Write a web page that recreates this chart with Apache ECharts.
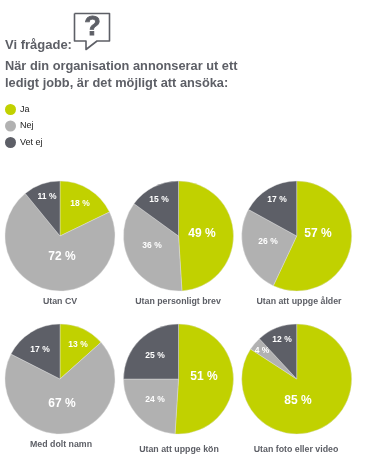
<!DOCTYPE html>
<html><head><meta charset="utf-8">
<style>html,body{margin:0;padding:0;background:#fff}#c{width:367px;height:467px}</style>
<script src="https://cdn.jsdelivr.net/npm/echarts@6/dist/echarts.min.js"></script>
</head><body><div id="c"></div>
<script>
const answers = ['Ja', 'Nej', 'Vet ej'];
const colors = ['#c1d100', '#b1b1b1', '#5d5f67'];
const pieNames = ['Utan CV', 'Utan personligt brev', 'Utan att uppge ålder', 'Med dolt namn', 'Utan att uppge kön', 'Utan foto eller video'];
const utanCV = [18, 72, 11];
const utanBrev = [49, 36, 15];
const utanAlder = [57, 26, 17];
const doltNamn = [13, 67, 17];
const utanKon = [51, 24, 25];
const utanFoto = [85, 4, 12];
const pieValues = [utanCV, utanBrev, utanAlder, doltNamn, utanKon, utanFoto];

// layout only
const centers = [[60,236],[178.5,236],[296.7,236],[60,379],[178.5,379],[296.7,379]];
const nameAnchors = [[60,302],[178,302],[299,302],[61,445],[179,450],[296,450]];
const labelAnchors = [
  [[80,204],[62,257],[47,197]],
  [[202,234],[152,246],[159,200]],
  [[318,234],[268,242],[277,200]],
  [[78,345],[62,404],[40,350]],
  [[204,377],[155,400],[155,356]],
  [[298,401],[262,351],[282,340]]
];
const bigFrom = 40;
const textCol = '#5d5f66';
const font = '"Liberation Sans", Arial, sans-serif';

const series = pieValues.map((vals, p) => ({
  type: 'pie',
  radius: [0, 55],
  center: centers[p],
  startAngle: 90,
  clockwise: true,
  silent: true,
  animation: false,
  data: vals.map((v, i) => ({
    name: answers[i], value: v,
    itemStyle: { color: colors[i], borderColor: '#e4e4e4', borderWidth: 0.4 },
    label: {
      show: true, position: 'inside', formatter: '{c} %',
      color: '#fff', fontFamily: font, fontWeight: 'bold',
      fontSize: v >= bigFrom ? 12 : 8.5
    }
  })),
  labelLine: { show: false },
  labelLayout: params => {
    const a = labelAnchors[p][params.dataIndex];
    return { x: a[0], y: a[1], align: 'center', verticalAlign: 'middle' };
  }
}));

const titles = pieNames.map((n, i) => ({
  text: n, left: nameAnchors[i][0], top: nameAnchors[i][1] - 4.5, textAlign: 'center', padding: 0,
  textStyle: { color: textCol, fontFamily: font, fontWeight: 'bold', fontSize: 8.8 }
}));
titles.push(
  { text: 'Vi frågade:', left: 5, top: 39, padding: 0, textStyle: { color: textCol, fontFamily: font, fontWeight: 'bold', fontSize: 13 } },
  { text: 'När din organisation annonserar ut ett\nledigt jobb, är det möjligt att ansöka:', left: 5, top: 57.5, padding: 0,
    textStyle: { color: textCol, fontFamily: font, fontWeight: 'bold', fontSize: 12.8, lineHeight: 17 } }
);

const chart = echarts.init(document.getElementById('c'), null, { renderer: 'canvas' });
chart.setOption({
  backgroundColor: '#fff',
  animation: false,
  title: titles,
  legend: {
    data: answers, orient: 'vertical', left: 5, top: 104, padding: 0,
    icon: 'circle', itemWidth: 11, itemHeight: 11, itemGap: 5.5, selectedMode: false,
    itemStyle: { borderWidth: 0 },
    textStyle: { color: '#222', fontFamily: font, fontSize: 9, padding: [0,0,0,-1], lineHeight: 11 }
  },
  graphic: [
    { type: 'polyline', silent: true,
      shape: { points: [[74.5,13.5],[109.5,13.5],[109.5,41],[97,41],[86,49.5],[86,41],[74.5,41],[74.5,13.5]] },
      style: { fill: '#fff', stroke: textCol, lineWidth: 1.6, lineJoin: 'round' } },
    { type: 'text', silent: true, x: 92.5, y: 28,
      style: { text: '?', fill: textCol, stroke: textCol, lineWidth: 0.8, font: 'bold 27px "Liberation Sans"', align: 'center', verticalAlign: 'middle' } }
  ],
  series
});
</script></body></html>
